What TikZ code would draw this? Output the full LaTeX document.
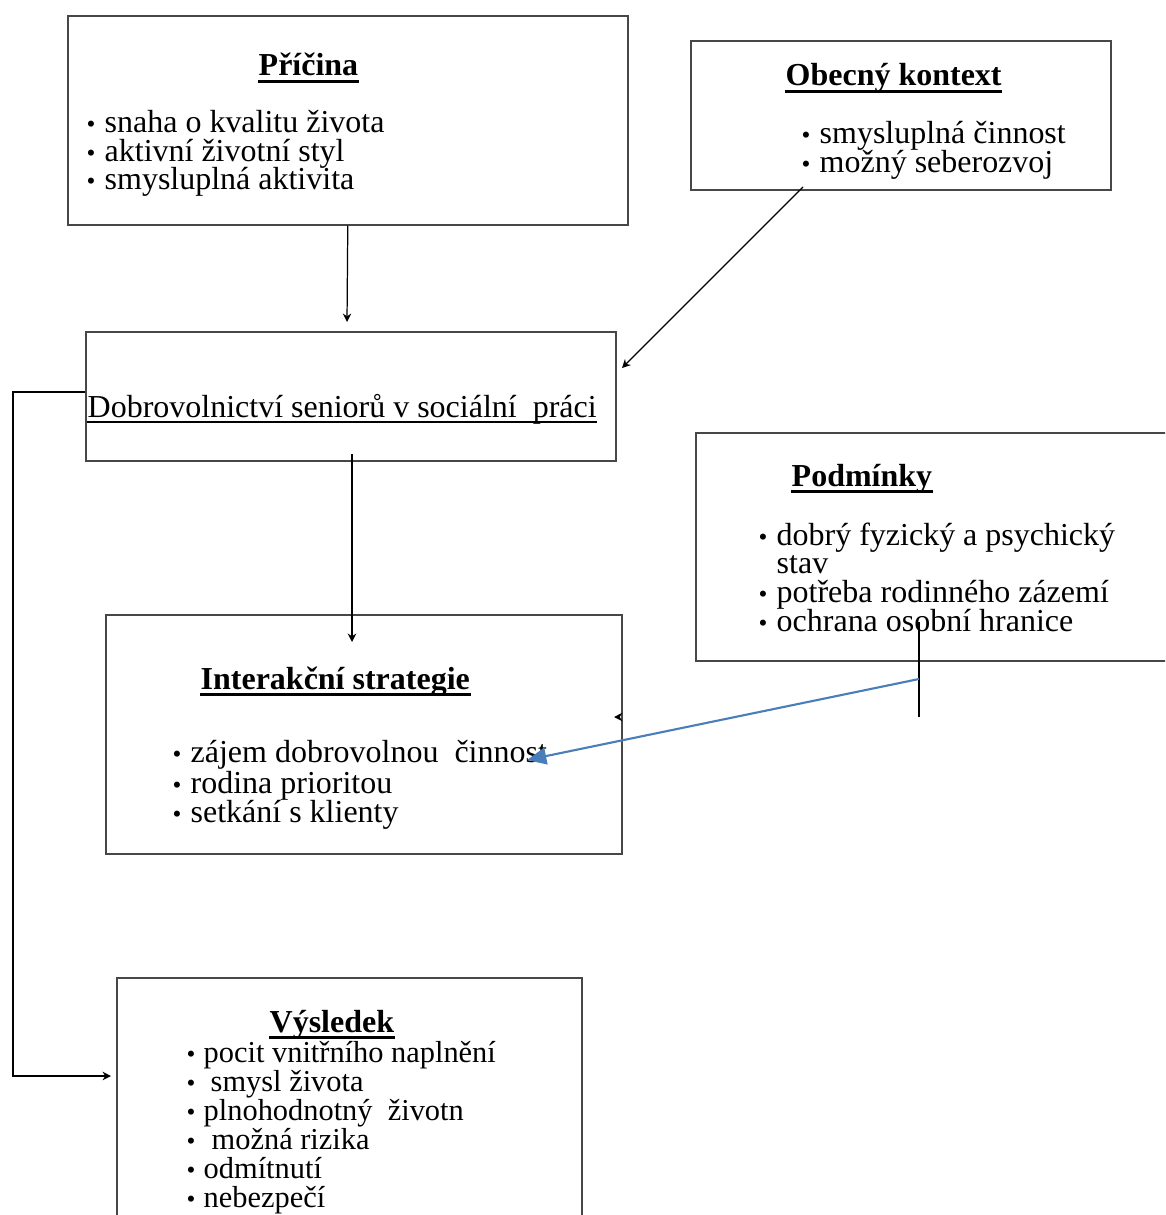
\documentclass[tikz,border=0pt]{standalone}
\usepackage{fontspec}
\setmainfont{Liberation Serif}
\usetikzlibrary{arrows.meta,calc}
\definecolor{bluec}{RGB}{74,126,187}
\newcommand\fs{\fontsize{9.1pt}{8.3pt}\selectfont}
\newcommand\fsv{\fontsize{8.65pt}{8.3pt}\selectfont}
\newcommand\bsym{\fontsize{7.2pt}{8pt}\selectfont\textbullet}
\begin{document}
\begin{tikzpicture}[x=0.1mm,y=-0.1mm,
  box/.style={draw=black!72,line width=0.45pt,inner sep=0,anchor=north west},
  ttl/.style={font=\fs\bfseries,anchor=base west,inner sep=0},
  itm/.style={font=\fs,anchor=base west,inner sep=0},
  itmv/.style={font=\fsv,anchor=base west,inner sep=0},
  bul/.style={anchor=base west,inner sep=0},
  arr/.style={draw=black,line width=0.35pt,-{Stealth[length=2.4pt,width=2.4pt]}},
  conn/.style={draw=black,line width=0.35pt},
  ulthick/.style={line width=0.85pt},
  ulthin/.style={line width=0.6pt},
  bluearr/.style={draw=bluec,line width=0.6pt,-{Triangle[length=5.5pt,width=4.8pt]}}]
\useasboundingbox (0,0) rectangle (1165,1215);
\clip (0,0) rectangle (1165,1215);

% ---------- Příčina
\node[box,minimum width=56mm,minimum height=20.9mm] (pricina) at (67,15) {};
\node[ttl] (tpricina) at (258,76) {Příčina};
\draw[ulthick] ([yshift=-1.5pt]tpricina.base west) -- ([yshift=-1.5pt]tpricina.base east);
\node[bul] (pb1) at (86,133) {\bsym};
\node[itm] (pi1) at (104,133) {snaha o kvalitu života};
\node[bul] (pb2) at (86,162) {\bsym};
\node[itm] (pi2) at (104,162) {aktivní životní styl};
\node[bul] (pb3) at (86,190) {\bsym};
\node[itm] (pi3) at (104,190) {smysluplná aktivita};

% ---------- Obecný kontext
\node[box,minimum width=42mm,minimum height=14.9mm] (obecny) at (690,40) {};
\node[ttl] (tobecny) at (785,86) {Obecný kontext};
\draw[ulthick] ([yshift=-1.5pt]tobecny.base west) -- ([yshift=-1.5pt]tobecny.base east);
\node[bul] (ob1) at (801,144) {\bsym};
\node[itm] (oi1) at (819,144) {smysluplná činnost};
\node[bul] (ob2) at (801,173) {\bsym};
\node[itm] (oi2) at (819,173) {možný seberozvoj};

% ---------- Dobrovolnictví
\node[box,minimum width=53mm,minimum height=12.9mm] (dobro) at (85,331) {};
\node[itm] (tdobro) at (87,418) {Dobrovolnictví seniorů v sociální\ \ práci};
\draw[ulthin] ([yshift=-1.2pt]tdobro.base west) -- ([yshift=-1.2pt]tdobro.base east);

% ---------- Podmínky
\node[box,minimum width=50mm,minimum height=22.8mm] (podminky) at (695,432) {};
\node[ttl] (tpodminky) at (791,486) {Podmínky};
\draw[ulthick] ([yshift=-1.5pt]tpodminky.base west) -- ([yshift=-1.5pt]tpodminky.base east);
\node[bul] (db1) at (758,545) {\bsym};
\node[itm] (di1) at (776,545) {dobrý fyzický a psychický};
\node[itm] (di1b) at (776,573) {stav};
\node[bul] (db2) at (758,602) {\bsym};
\node[itm] (di2) at (776,602) {potřeba rodinného zázemí};
\node[bul] (db3) at (758,631) {\bsym};
\node[itm] (di3) at (776,631) {ochrana osobní hranice};

% ---------- Interakční strategie
\node[box,minimum width=51.6mm,minimum height=23.9mm] (inter) at (105,614) {};
\node[ttl] (tinter) at (200,689) {Interakční strategie};
\draw[ulthick] ([yshift=-1.5pt]tinter.base west) -- ([yshift=-1.5pt]tinter.base east);
\node[bul] (ib1) at (172,762) {\bsym};
\node[itm] (ii1) at (190,762) {zájem dobrovolnou\ \ činnost};
\node[bul] (ib2) at (172,793) {\bsym};
\node[itm] (ii2) at (190,793) {rodina prioritou};
\node[bul] (ib3) at (172,822) {\bsym};
\node[itm] (ii3) at (190,822) {setkání s klienty};

% ---------- Výsledek
\node[box,minimum width=46.5mm,minimum height=26mm] (vysledek) at (116,977) {};
\node[ttl] (tvysledek) at (269,1032) {Výsledek};
\draw[ulthick] ([yshift=-1.5pt]tvysledek.base west) -- ([yshift=-1.5pt]tvysledek.base east);
\node[bul] (vb1) at (186,1062) {\bsym};
\node[itmv] (vi1) at (203,1062) {pocit vnitřního naplnění};
\node[bul] (vb2) at (186,1091) {\bsym};
\node[itmv] (vi2) at (210,1091) {smysl života};
\node[bul] (vb3) at (186,1120) {\bsym};
\node[itmv] (vi3) at (203,1120) {plnohodnotný\ \ životn};
\node[bul] (vb4) at (186,1149) {\bsym};
\node[itmv] (vi4) at (211,1149) {možná rizika};
\node[bul] (vb5) at (186,1178) {\bsym};
\node[itmv] (vi5) at (203,1178) {odmítnutí};
\node[bul] (vb6) at (186,1207) {\bsym};
\node[itmv] (vi6) at (203,1207) {nebezpečí};

% ---------- connectors
\coordinate (pEnd) at (347,322);
\draw[arr] (pricina.south) -- (pEnd);

\coordinate (oStart) at (803,187);
\coordinate (oEnd) at (622,368);
\draw[arr] (oStart) -- (oEnd);

\coordinate (dStart) at (352,454);
\coordinate (dEnd) at (352,642);
\draw[arr] (dStart) -- (dEnd);

\coordinate (lStart) at (85,392);
\coordinate (lCorner) at (13,392);
\coordinate (lEnd) at (111,1076);
\draw[arr] (lStart) -- (lCorner) |- (lEnd);

\coordinate (cTop) at (919,622);
\coordinate (cBot) at (919,717);
\coordinate (cMid) at (919,679);
\draw[conn] (cTop) -- (cBot);
\coordinate (bEnd) at (527,760);
\draw[bluearr] (cMid) -- (bEnd);

\coordinate (sA) at (616,717);
\coordinate (sB) at (614,717);
\draw[arr] (sA) -- (sB);
\end{tikzpicture}
\end{document}
